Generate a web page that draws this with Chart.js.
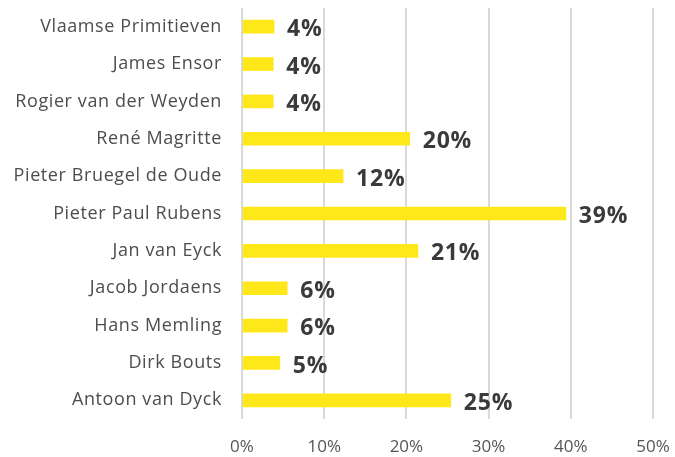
<!DOCTYPE html>
<html>
<head>
<meta charset="utf-8">
<script src="https://cdn.jsdelivr.net/npm/chart.js@4/dist/chart.umd.min.js"></script>
<style>
  body { margin: 0; background: #fff; }
  #wrap { width: 675px; height: 457px; }
</style>
</head>
<body>
<div id="wrap"><canvas id="bar-chart"></canvas></div>
<script>
var labels = [
  'Vlaamse Primitieven', 'James Ensor', 'Rogier van der Weyden', 'René Magritte',
  'Pieter Bruegel de Oude', 'Pieter Paul Rubens', 'Jan van Eyck', 'Jacob Jordaens',
  'Hans Memling', 'Dirk Bouts', 'Antoon van Dyck'
];
var values = [3.9, 3.8, 3.8, 20.4, 12.3, 39.4, 21.4, 5.5, 5.5, 4.6, 25.4];
var tickValues = [0, 10, 20, 30, 40, 50];

var fontName = "'Open Sans', sans-serif";

// bold percentages next to each bar
var valueLabels = {
  id: 'valueLabels',
  afterDatasetsDraw: function (chart) {
    var ctx = chart.ctx;
    var meta = chart.getDatasetMeta(0);
    ctx.save();
    ctx.font = 'bold 23px ' + fontName;
    ctx.letterSpacing = '0.8px';
    ctx.fillStyle = '#3a3a3a';
    ctx.textAlign = 'left';
    ctx.textBaseline = 'middle';
    meta.data.forEach(function (bar, i) {
      ctx.fillText(Math.round(values[i]) + '%', bar.x + 13, bar.y + 3);
    });
    ctx.restore();
  }
};

// a little letter spacing on the category names
var spacedLabels = {
  id: 'spacedLabels',
  afterLayout: function (chart) {
    var y = chart.scales.y;
    var base = Object.getPrototypeOf(y).drawLabels;
    y.drawLabels = function (area) {
      chart.ctx.save();
      chart.ctx.letterSpacing = '0.6px';
      base.call(this, area);
      chart.ctx.restore();
    };
  }
};

var ctx = document.getElementById('bar-chart').getContext('2d');
var myChart = new Chart(ctx, {
  type: 'bar',
  data: {
    labels: labels,
    datasets: [{
      data: values,
      backgroundColor: '#ffe819',
      borderWidth: 0,
      barThickness: 13
    }]
  },
  options: {
    indexAxis: 'y',
    responsive: true,
    maintainAspectRatio: false,
    animation: false,
    layout: { padding: { top: 8, right: 22, bottom: 0, left: 0 } },
    plugins: {
      legend: { display: false },
      tooltip: { enabled: false }
    },
    scales: {
      x: {
        min: 0,
        max: 50,
        afterBuildTicks: function (scale) {
          scale.ticks = tickValues.map(function (v) { return { value: v }; });
        },
        afterFit: function (scale) {
          scale.height = 38;
          scale.paddingLeft = 0;
          scale.paddingRight = 0;
        },
        grid: { color: '#d9d9d9', lineWidth: 2, drawTicks: false },
        border: { display: false },
        ticks: {
          padding: 18,
          color: '#555',
          font: { family: fontName, size: 17 },
          callback: function (v) { return v + '%'; }
        }
      },
      y: {
        grid: { display: false },
        border: { display: false },
        afterFit: function (scale) {
          scale.width = 242;
          scale.paddingTop = 0;
          scale.paddingBottom = 0;
        },
        ticks: {
          padding: 12,
          color: '#4d4d4d',
          font: { family: fontName, size: 18 }
        }
      }
    }
  },
  plugins: [valueLabels, spacedLabels]
});
</script>
</body>
</html>
